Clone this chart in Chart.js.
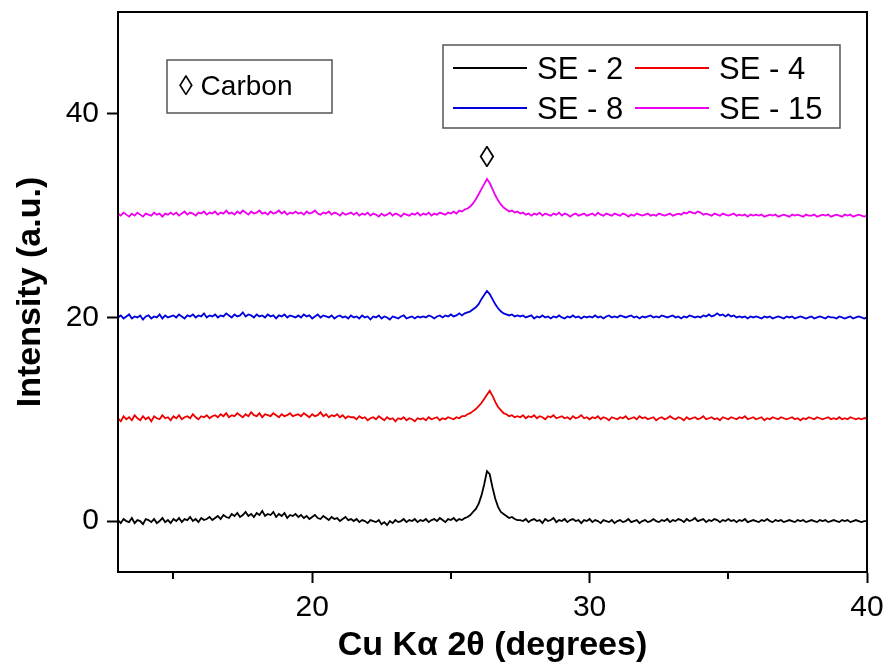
<!DOCTYPE html>
<html>
<head>
<meta charset="utf-8">
<script src="https://cdn.jsdelivr.net/npm/chart.js@4.4.1/dist/chart.umd.min.js"></script>
<style>
  html, body { margin: 0; padding: 0; background: #fff; }
</style>
</head>
<body>
<canvas id="xrd" width="891" height="671"></canvas>
<script>
// 2-theta sampling grid, 13.0 .. 40.0 deg every 0.1
const thetaStart = 13.0, thetaStep = 0.1, thetaCount = 271;
const twoTheta = Array.from({length: thetaCount}, (_, i) => +(thetaStart + i * thetaStep).toFixed(1));

const xMajorTicks = [20, 30, 40];
const xMinorTicks = [15, 25, 35];
const yTicks = [0, 20, 40];

const seriesNames = ['SE - 2', 'SE - 4', 'SE - 8', 'SE - 15'];
const seriesColors = ['#000000', '#ee0000', '#0000dd', '#ee00ee'];

// one row per degree (x.0 .. x.9)
const se2 = [
  0.1, -0.2, 0.2, 0.0, -0.1, 0.3, -0.2, 0.1, 0.0, -0.3,
  0.2, 0.1, -0.1, 0.2, -0.2, 0.0, 0.3, -0.1, 0.1, -0.2,
  0.2, 0.0, 0.3, -0.1, 0.2, 0.1, 0.4, 0.0, 0.2, -0.1,
  0.3, 0.1, 0.2, 0.4, 0.1, 0.3, 0.5, 0.2, 0.6, 0.4,
  0.3, 0.7, 0.5, 0.8, 0.4, 0.6, 0.9, 0.5, 0.7, 0.4,
  0.8, 0.6, 1.0, 0.5, 0.7, 0.6, 0.9, 0.4, 0.7, 0.5,
  0.8, 0.3, 0.6, 0.5, 0.7, 0.4, 0.6, 0.3, 0.5, 0.2,
  0.4, 0.6, 0.3, 0.2, 0.5, 0.3, 0.1, 0.4, 0.2, 0.3,
  0.0, 0.2, 0.4, 0.1, 0.2, 0.0, 0.2, -0.1, 0.1, 0.0,
  -0.2, 0.1, 0.0, -0.1, 0.1, -0.3, -0.1, -0.4, 0.0, -0.2,
  0.1, -0.1, 0.0, 0.2, -0.1, 0.1, 0.0, 0.2, -0.1, 0.1,
  0.0, 0.2, -0.1, 0.1, 0.2, 0.0, 0.3, 0.1, -0.1, 0.2,
  0.1, 0.3, 0.0, 0.2, 0.1, 0.3, 0.4, 0.6, 0.9, 1.2,
  1.7, 2.5, 3.6, 4.9, 4.6, 3.3, 2.2, 1.4, 0.9, 0.7,
  0.5, 0.3, 0.4, 0.2, 0.1, 0.1, 0.0, 0.2, -0.1, 0.1,
  0.2, 0.0, 0.1, -0.2, 0.2, 0.0, 0.1, 0.3, -0.1, 0.1,
  0.0, 0.2, -0.1, 0.1, 0.2, 0.0, 0.1, -0.2, 0.1, 0.0,
  0.2, -0.1, 0.1, 0.0, -0.2, 0.1, 0.0, -0.1, 0.1, -0.2,
  0.0, 0.1, -0.1, 0.0, 0.2, -0.1, 0.0, 0.1, -0.2, 0.0,
  0.1, -0.1, 0.0, 0.2, 0.0, -0.1, 0.1, 0.0, 0.2, -0.1,
  0.1, 0.0, 0.2, 0.1, -0.1, 0.2, 0.0, 0.1, 0.3, 0.0,
  0.1, 0.2, -0.1, 0.1, 0.0, 0.2, 0.1, -0.1, 0.1, 0.0,
  0.2, 0.0, 0.1, -0.1, 0.1, 0.0, 0.2, -0.1, 0.0, 0.1,
  0.0, -0.1, 0.1, 0.0, 0.2, 0.0, -0.1, 0.1, 0.0, 0.1,
  -0.1, 0.0, 0.1, 0.0, -0.1, 0.1, 0.0, 0.1, -0.1, 0.0,
  0.1, 0.0, -0.1, 0.1, 0.0, 0.1, -0.1, 0.0, 0.1, 0.0,
  -0.1, 0.1, 0.0, 0.1, -0.1, 0.0, 0.1, 0.0, -0.1, 0.0,
  0.0
];

const se4 = [
  10.1, 9.8, 10.3, 10.0, 10.2, 9.9, 10.4, 10.1, 9.9, 10.3,
  10.0, 10.2, 9.8, 10.3, 10.1, 10.0, 10.4, 10.1, 10.2, 9.9,
  10.3, 10.1, 10.4, 10.0, 10.2, 10.3, 10.1, 10.5, 10.2, 10.0,
  10.3, 10.2, 10.4, 10.1, 10.3, 10.4, 10.2, 10.5, 10.3, 10.6,
  10.2, 10.4, 10.3, 10.6, 10.4, 10.2, 10.5, 10.3, 10.7, 10.4,
  10.3, 10.6, 10.2, 10.5, 10.4, 10.3, 10.6, 10.4, 10.2, 10.5,
  10.3, 10.4, 10.6, 10.3, 10.4, 10.5, 10.3, 10.6, 10.4, 10.2,
  10.5, 10.3, 10.4, 10.7, 10.3, 10.5, 10.2, 10.4, 10.3, 10.5,
  10.2, 10.4, 10.1, 10.3, 10.2, 10.2, 10.0, 10.3, 10.1, 10.2,
  9.9, 10.1, 10.2, 10.0, 10.3, 10.1, 9.9, 10.2, 10.0, 10.1,
  9.8, 10.1, 10.0, 10.2, 9.9, 10.1, 10.0, 9.8, 10.1, 10.0,
  10.1, 9.9, 10.2, 10.0, 10.1, 10.2, 9.9, 10.1, 10.0, 10.2,
  10.1, 10.0, 10.2, 10.1, 10.3, 10.3, 10.5, 10.6, 10.8, 11.0,
  11.3, 11.6, 12.0, 12.4, 12.8, 12.3, 11.7, 11.2, 10.9, 10.6,
  10.5, 10.3, 10.4, 10.2, 10.3, 10.2, 10.4, 10.1, 10.3, 10.2,
  10.4, 10.1, 10.3, 10.2, 10.0, 10.3, 10.2, 10.4, 10.1, 10.2,
  10.3, 10.1, 10.2, 10.0, 10.3, 10.1, 10.2, 10.4, 10.1, 10.2,
  10.0, 10.2, 10.1, 10.3, 10.0, 10.2, 10.1, 9.9, 10.2, 10.1,
  10.0, 10.2, 10.1, 10.3, 10.0, 10.1, 10.2, 10.0, 10.3, 10.1,
  10.2, 10.0, 10.1, 10.2, 9.9, 10.1, 10.2, 10.0, 10.1, 10.3,
  10.1, 10.0, 10.2, 10.1, 9.9, 10.2, 10.0, 10.1, 10.2, 10.0,
  10.1, 10.3, 10.0, 10.1, 10.2, 10.0, 10.1, 9.9, 10.2, 10.1,
  10.0, 10.2, 10.1, 10.0, 10.2, 10.1, 10.3, 10.0, 10.1, 10.2,
  10.0, 10.1, 10.2, 9.9, 10.1, 10.0, 10.2, 10.1, 10.0, 10.2,
  10.1, 10.0, 10.1, 10.2, 10.0, 10.1, 9.9, 10.1, 10.0, 10.2,
  10.1, 10.0, 10.2, 10.1, 10.0, 10.1, 10.2, 10.0, 10.1, 10.0,
  10.2, 10.0, 10.1, 10.0, 10.2, 10.1, 10.0, 10.1, 10.0, 10.1,
  10.1
];

const se8 = [
  20.0, 20.2, 19.9, 20.1, 20.3, 19.9, 20.1, 20.0, 20.2, 19.8,
  20.1, 20.2, 19.9, 20.1, 20.0, 20.3, 19.9, 20.2, 20.0, 20.1,
  20.2, 20.0, 20.3, 20.1, 19.9, 20.2, 20.1, 20.3, 20.0, 20.2,
  20.1, 20.4, 20.0, 20.2, 20.1, 20.3, 20.0, 20.2, 20.1, 20.4,
  20.2, 20.0, 20.3, 20.1, 20.2, 20.5, 20.1, 20.3, 20.2, 20.0,
  20.3, 20.1, 20.2, 20.0, 20.3, 20.1, 20.2, 19.9, 20.2, 20.1,
  20.3, 20.0, 20.2, 20.1, 20.0, 20.2, 20.0, 20.3, 20.1, 20.2,
  19.9, 20.1, 20.3, 20.0, 20.2, 20.1, 20.0, 20.2, 19.9, 20.1,
  20.2, 20.0, 20.1, 19.9, 20.2, 20.0, 20.1, 19.9, 20.2, 20.0,
  20.1, 19.8, 20.1, 20.0, 20.2, 19.9, 20.1, 20.0, 19.8, 20.1,
  20.0, 19.9, 20.1, 20.2, 19.9, 20.0, 20.1, 19.9, 20.1, 20.0,
  20.1, 20.0, 20.2, 20.1, 19.9, 20.1, 20.2, 20.0, 20.2, 20.1,
  20.3, 20.1, 20.2, 20.4, 20.2, 20.4, 20.5, 20.6, 20.8, 21.0,
  21.3, 21.8, 22.2, 22.6, 22.3, 21.8, 21.3, 20.9, 20.6, 20.4,
  20.3, 20.2, 20.3, 20.1, 20.2, 20.1, 20.2, 20.0, 20.1, 20.2,
  19.9, 20.1, 20.0, 20.2, 20.0, 20.1, 19.9, 20.1, 20.0, 20.2,
  20.0, 19.9, 20.1, 20.0, 20.2, 20.0, 20.1, 19.9, 20.1, 20.0,
  20.1, 20.0, 20.2, 20.0, 20.1, 19.9, 20.1, 20.2, 20.0, 20.1,
  20.0, 20.2, 20.1, 20.0, 20.1, 20.2, 20.0, 20.1, 19.9, 20.1,
  20.0, 20.1, 20.2, 20.0, 20.1, 20.0, 20.2, 20.1, 20.0, 20.1,
  20.2, 20.0, 20.1, 19.9, 20.1, 20.0, 20.2, 20.1, 20.0, 20.1,
  20.0, 20.2, 20.1, 20.3, 20.1, 20.2, 20.4, 20.2, 20.3, 20.1,
  20.3, 20.1, 20.2, 20.0, 20.1, 20.0, 20.1, 19.9, 20.1, 20.0,
  20.1, 20.0, 19.9, 20.1, 20.0, 20.1, 19.9, 20.0, 20.1, 20.0,
  19.9, 20.1, 20.0, 20.1, 19.9, 20.0, 20.1, 20.0, 19.9, 20.0,
  20.1, 19.9, 20.0, 20.1, 20.0, 19.9, 20.1, 20.0, 20.0, 19.9,
  20.1, 20.0, 19.9, 20.0, 20.1, 19.9, 20.0, 20.1, 20.0, 19.9,
  20.0
];

const se15 = [
  30.2, 30.0, 30.3, 30.1, 29.9, 30.2, 30.0, 30.3, 30.1, 29.9,
  30.2, 30.1, 30.0, 30.3, 30.1, 30.2, 29.9, 30.2, 30.1, 30.3,
  30.1, 30.3, 30.0, 30.2, 30.4, 30.1, 30.3, 30.2, 30.0, 30.3,
  30.2, 30.4, 30.1, 30.3, 30.2, 30.4, 30.1, 30.3, 30.2, 30.5,
  30.2, 30.3, 30.1, 30.4, 30.2, 30.5, 30.3, 30.1, 30.4, 30.2,
  30.3, 30.5, 30.2, 30.3, 30.1, 30.4, 30.2, 30.3, 30.5, 30.2,
  30.4, 30.1, 30.3, 30.2, 30.4, 30.2, 30.3, 30.1, 30.4, 30.2,
  30.3, 30.5, 30.2, 30.1, 30.3, 30.2, 30.4, 30.1, 30.3, 30.2,
  30.0, 30.3, 30.1, 30.2, 30.3, 30.1, 30.3, 30.0, 30.2, 30.1,
  30.3, 30.0, 30.2, 30.1, 29.9, 30.2, 30.0, 30.1, 30.3, 30.0,
  30.2, 30.1, 29.9, 30.2, 30.1, 30.0, 30.2, 30.1, 30.3, 30.0,
  30.2, 30.1, 30.3, 30.0, 30.2, 30.1, 30.3, 30.2, 30.1, 30.3,
  30.2, 30.4, 30.2, 30.5, 30.4, 30.6, 30.7, 30.9, 31.2, 31.6,
  32.1, 32.6, 33.1, 33.6, 33.2, 32.6, 32.0, 31.5, 31.1, 30.8,
  30.6, 30.4, 30.5, 30.3, 30.4, 30.2, 30.3, 30.1, 30.2, 30.0,
  30.2, 30.1, 30.3, 30.0, 30.2, 30.1, 30.0, 30.2, 30.1, 30.3,
  30.0, 30.2, 30.1, 29.9, 30.1, 30.2, 30.0, 30.1, 30.2, 30.0,
  30.1, 30.2, 30.0, 30.3, 30.1, 30.0, 30.2, 30.1, 30.0, 30.2,
  30.1, 30.0, 30.2, 30.1, 29.9, 30.1, 30.0, 30.2, 30.1, 30.0,
  30.1, 30.2, 30.0, 30.1, 30.0, 30.2, 30.1, 30.0, 30.1, 30.2,
  30.0, 30.1, 30.2, 30.1, 30.3, 30.2, 30.4, 30.3, 30.2, 30.4,
  30.3, 30.1, 30.2, 30.1, 30.0, 30.2, 30.1, 30.0, 30.2, 30.1,
  30.0, 30.1, 30.2, 30.0, 30.1, 30.0, 30.1, 29.9, 30.1, 30.0,
  30.1, 30.0, 30.1, 29.9, 30.0, 30.1, 30.0, 30.1, 29.9, 30.0,
  30.1, 30.0, 29.9, 30.1, 30.0, 30.1, 30.0, 29.9, 30.1, 30.0,
  30.0, 30.1, 29.9, 30.0, 30.1, 30.0, 30.1, 29.9, 30.0, 30.1,
  30.0, 29.9, 30.1, 30.0, 30.1, 29.9, 30.0, 30.1, 30.0, 29.9,
  30.0
];

// carbon reflection marker above the peaks
const markerTheta = [26.3];
const markerIntensity = [35.6];
const markerSymbols = ['\u25CA'];

const FONT = "'Liberation Sans', Arial, sans-serif";
Chart.defaults.font.family = FONT;
Chart.defaults.color = '#000';

const allSeries = [se2, se4, se8, se15];

const decor = {
  id: 'decor',
  afterDatasetsDraw(chart) {
    const {ctx, chartArea: a, scales: {x, y}} = chart;
    ctx.save();

    // frame around plot
    ctx.strokeStyle = '#000';
    ctx.lineWidth = 2;
    ctx.strokeRect(a.left, a.top, a.right - a.left, a.bottom - a.top);

    // minor ticks (shorter)
    ctx.beginPath();
    xMinorTicks.forEach(v => {
      const px = Math.round(x.getPixelForValue(v));
      ctx.moveTo(px, a.bottom);
      ctx.lineTo(px, a.bottom + 7);
    });
    ctx.stroke();

    // diamond over the peak
    ctx.fillStyle = '#000';
    ctx.font = '30px ' + FONT;
    ctx.textAlign = 'center';
    ctx.textBaseline = 'middle';
    markerTheta.forEach((t, i) => {
      ctx.fillText(markerSymbols[i], x.getPixelForValue(t), y.getPixelForValue(markerIntensity[i]));
    });

    // "Carbon" key box
    ctx.lineWidth = 1.5;
    ctx.strokeStyle = '#555';
    ctx.fillStyle = '#fff';
    ctx.fillRect(167, 60, 165, 53);
    ctx.strokeRect(167, 60, 165, 53);
    ctx.fillStyle = '#000';
    ctx.font = '28px ' + FONT;
    ctx.textAlign = 'left';
    ctx.fillText('\u25CA Carbon', 179, 87);

    // legend, two columns
    ctx.fillStyle = '#fff';
    ctx.fillRect(443, 45, 397, 83);
    ctx.strokeRect(443, 45, 397, 83);
    ctx.font = '31px ' + FONT;
    chart.data.datasets.forEach((ds, i) => {
      const col = i % 2, row = Math.floor(i / 2);
      const lx = col ? 635 : 453;
      const ly = row ? 108 : 68;
      ctx.strokeStyle = ds.borderColor;
      ctx.lineWidth = 2;
      ctx.beginPath();
      ctx.moveTo(lx, ly);
      ctx.lineTo(lx + 74, ly);
      ctx.stroke();
      ctx.fillStyle = '#000';
      ctx.fillText(ds.label, lx + 84, ly + 2);
    });

    ctx.restore();
  }
};

new Chart(document.getElementById('xrd'), {
  type: 'line',
  data: {
    datasets: seriesNames.map((name, k) => ({
      label: name,
      data: twoTheta.map((t, i) => ({x: t, y: allSeries[k][i]})),
      borderColor: seriesColors[k],
      borderWidth: 1.8,
      pointRadius: 0,
      tension: 0,
      fill: false
    }))
  },
  options: {
    responsive: false,
    animation: false,
    layout: {padding: {top: 12, right: 24, left: 0, bottom: 0}},
    plugins: {legend: {display: false}, tooltip: {enabled: false}},
    scales: {
      x: {
        type: 'linear',
        min: 13,
        max: 40,
        afterBuildTicks: s => { s.ticks = xMajorTicks.map(v => ({value: v})); },
        afterFit: s => { s.height = 99; s.paddingLeft = 0; s.paddingRight = 0; },
        ticks: {font: {size: 30}, color: '#000', padding: 7, maxRotation: 0, autoSkip: false},
        grid: {drawOnChartArea: false, tickLength: 11, tickWidth: 2, tickColor: '#000'},
        border: {color: '#000', width: 2},
        title: {display: true, text: 'Cu K\u03B1 2\u03B8 (degrees)', font: {size: 34, weight: 'bold'}, color: '#000', padding: {top: 0, bottom: 5}}
      },
      y: {
        type: 'linear',
        min: -5,
        max: 50,
        afterBuildTicks: s => { s.ticks = yTicks.map(v => ({value: v})); },
        afterFit: s => { s.width = 118; s.paddingTop = 0; s.paddingBottom = 0; },
        ticks: {font: {size: 30}, color: '#000', padding: 8},
        grid: {drawOnChartArea: false, tickLength: 11, tickWidth: 2, tickColor: '#000'},
        border: {color: '#000', width: 2},
        title: {display: true, text: 'Intensity (a.u.)', font: {size: 34, weight: 'bold'}, color: '#000', padding: {top: 10, bottom: 0}}
      }
    }
  },
  plugins: [decor]
});
</script>
</body>
</html>
